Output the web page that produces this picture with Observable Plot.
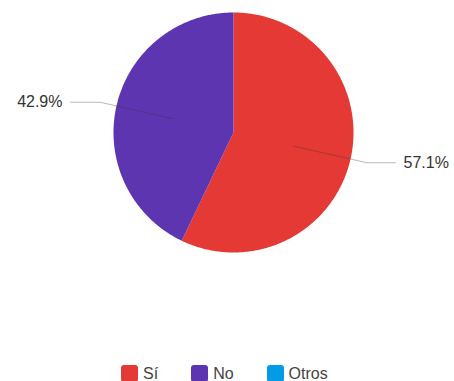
<!DOCTYPE html>
<html>
<head>
<meta charset="utf-8">
<script src="https://cdn.jsdelivr.net/npm/d3@7"></script>
<script src="https://cdn.jsdelivr.net/npm/@observablehq/plot@0.6"></script>
<style>
  html, body { margin: 0; padding: 0; background: #fff; }
  #chart svg { display: block; }
  .legend { display: flex; align-items: center; height: 25px; padding-top: 5px; padding-left: 121px; font-family: "Liberation Sans", Arial, sans-serif; font-size: 16px; color: #444; }
  .legend .item { display: flex; align-items: center; }
  .legend .sw { width: 17px; height: 17px; border-radius: 3px; margin-right: 5px; }
</style>
</head>
<body>
<div id="chart"></div>
<script>
const categories = ["Sí", "No", "Otros"];
const values = [57.1, 42.9, 0];
const colors = ["#e53935", "#5e35b1", "#039be5"];
const labels = ["57.1%", "42.9%", ""];

const W = 454, H = 356, CX = 233, CY = 132, R = 120;

const pie = d3.pie().sort(null).value(d => d.value);
const arcs = pie(categories.map((name, i) => ({name, value: values[i], label: labels[i]})));

// polygon outline for each slice (unit radius, angle clockwise from top)
const pts = [];
for (const a of arcs) {
  if (a.endAngle - a.startAngle <= 0) continue;
  pts.push({name: a.data.name, x: 0, y: 0});
  const n = Math.max(2, Math.ceil((a.endAngle - a.startAngle) / (Math.PI / 360)));
  for (let k = 0; k <= n; k++) {
    const t = a.startAngle + (a.endAngle - a.startAngle) * k / n;
    pts.push({name: a.data.name, x: Math.sin(t), y: Math.cos(t)});
  }
}

// leader lines and labels
const leaders = [];
const texts = [];
for (const a of arcs) {
  if (!a.data.label) continue;
  const m = (a.startAngle + a.endAngle) / 2;
  const s = Math.sin(m), c = Math.cos(m);
  const right = s > 0;
  const ox = 1.14 * s, oy = 1.14 * c;
  const hx = right ? (395 - CX) / R : (70 - CX) / R;
  leaders.push({name: a.data.name, x: 0.51 * s, y: 0.51 * c});
  leaders.push({name: a.data.name, x: ox, y: oy});
  leaders.push({name: a.data.name, x: hx, y: oy});
  texts.push({label: a.data.label, x: right ? (403 - CX) / R : (62 - CX) / R, y: oy, anchor: right ? "start" : "end"});
}

const plot = Plot.plot({
  width: W,
  height: H,
  margin: 0,
  x: {domain: [-CX / R, (W - CX) / R], axis: null},
  y: {domain: [-(H - CY) / R, CY / R], axis: null},
  color: {domain: categories, range: colors},
  style: {fontFamily: "'Liberation Sans', Arial, sans-serif"},
  marks: [
    Plot.line(pts, {x: "x", y: "y", z: "name", fill: "name", stroke: "none", curve: "linear"}),
    Plot.line(leaders, {x: "x", y: "y", z: "name", stroke: "#333", strokeOpacity: 0.35, strokeWidth: 1}),
    Plot.text(texts.filter(d => d.anchor === "start"), {x: "x", y: "y", text: "label", textAnchor: "start", fontSize: 16, fill: "#333"}),
    Plot.text(texts.filter(d => d.anchor === "end"), {x: "x", y: "y", text: "label", textAnchor: "end", fontSize: 16, fill: "#333"})
  ]
});
document.getElementById("chart").appendChild(plot);

const legend = document.createElement("div");
legend.className = "legend";
const gaps = [33, 33, 0];
categories.forEach((name, i) => {
  const item = document.createElement("div");
  item.className = "item";
  item.style.marginRight = gaps[i] + "px";
  const sw = document.createElement("span");
  sw.className = "sw";
  sw.style.background = colors[i];
  const tx = document.createElement("span");
  tx.textContent = name;
  item.appendChild(sw);
  item.appendChild(tx);
  legend.appendChild(item);
});
document.getElementById("chart").appendChild(legend);
</script>
</body>
</html>
